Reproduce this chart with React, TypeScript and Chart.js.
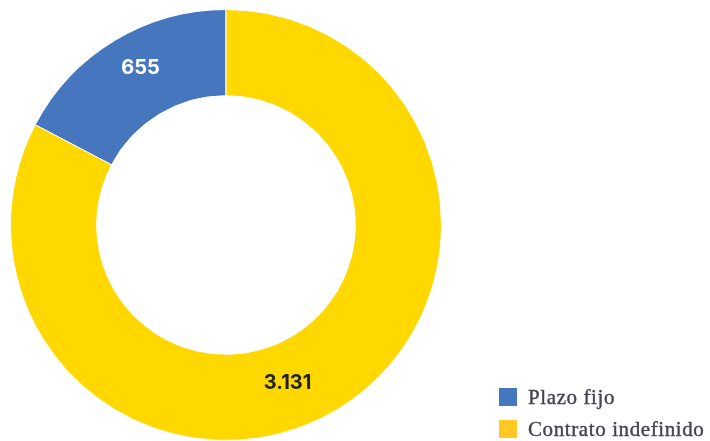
import React, { useEffect, useRef } from "react";
import { Chart, registerables } from "chart.js";

Chart.register(...registerables);

const categories = ["Plazo fijo", "Contrato indefinido"];
const values = [655, 3131];
const valueLabels = ["655", "3.131"];
const arcColors = ["#4677BE", "#FED800"];
const legendColors = ["#4677BE", "#FFC823"];
const labelColors = ["#FFFFFF", "#222222"];
// label placement inside each arc: fraction along the arc, fraction across the ring
const labelAlong = [0.54, 0.533];
const labelAcross = [0.57, 0.465];

const total = values.reduce((a, b) => a + b, 0);

const labelPlugin = {
  id: "valueLabels",
  afterDatasetsDraw(chart: any) {
    const ctx = chart.ctx;
    const meta = chart.getDatasetMeta(0);
    ctx.save();
    ctx.font = "bold 20px Inter";
    ctx.textAlign = "center";
    ctx.textBaseline = "middle";
    meta.data.forEach((arc: any, i: number) => {
      const p = arc.getProps(["x", "y", "startAngle", "endAngle", "innerRadius", "outerRadius"], true);
      const a = p.startAngle + (p.endAngle - p.startAngle) * labelAlong[i];
      const r = p.innerRadius + (p.outerRadius - p.innerRadius) * labelAcross[i];
      ctx.fillStyle = labelColors[i];
      ctx.fillText(valueLabels[i], p.x + Math.cos(a) * r, p.y + Math.sin(a) * r);
    });
    ctx.restore();
  },
};

export default function App() {
  const ref = useRef<HTMLCanvasElement>(null);
  useEffect(() => {
    if (!ref.current) return;
    const chart = new Chart(ref.current, {
      type: "doughnut",
      data: {
        labels: categories,
        datasets: [
          {
            data: values,
            backgroundColor: arcColors,
            borderColor: "#ffffff",
            borderWidth: 1,
          },
        ],
      },
      options: {
        responsive: false,
        animation: false,
        cutout: "60%",
        rotation: -(values[0] / total) * 360,
        layout: { padding: { left: 10, top: 9, right: 268, bottom: 0 } },
        plugins: {
          legend: { display: false },
          tooltip: { enabled: false },
        },
      },
      plugins: [labelPlugin],
    });
    return () => chart.destroy();
  }, []);

  return (
    <div style={{ position: "absolute", left: 0, top: 0, width: 710, height: 441, background: "#fff" }}>
      <canvas ref={ref} width={710} height={441} style={{ position: "absolute", left: 0, top: 0 }} />
      <div style={{ position: "absolute", left: 499, top: 381 }}>
        {categories.map((c, i) => (
          <div key={c} style={{ display: "flex", alignItems: "center", height: 32 }}>
            <div style={{ width: 18, height: 18, background: legendColors[i], marginRight: 11 }} />
            <span
              style={{
                fontFamily: "'Liberation Serif', serif",
                fontSize: 21,
                letterSpacing: 0.6,
                color: "#45454F",
                WebkitTextStroke: "0.4px #45454F",
                whiteSpace: "nowrap",
              }}
            >
              {c}
            </span>
          </div>
        ))}
      </div>
    </div>
  );
}
